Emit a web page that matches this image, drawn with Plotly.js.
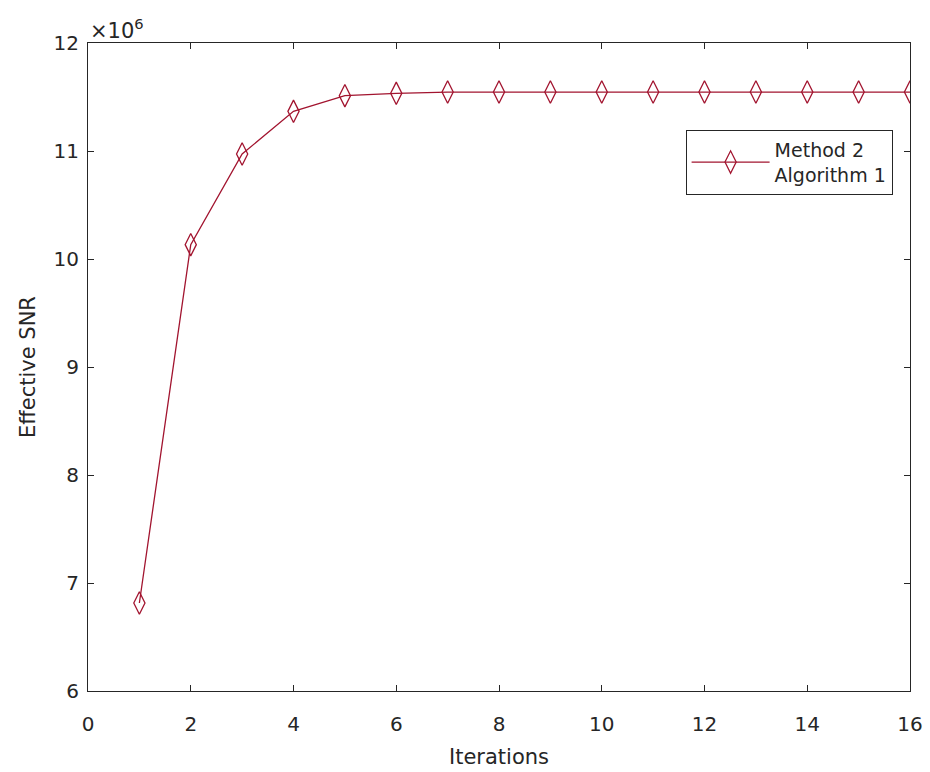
<!DOCTYPE html>
<html>
<head>
<meta charset="utf-8">
<script src="https://cdn.plot.ly/plotly-3.0.1.min.js"></script>
<style>html,body{margin:0;padding:0;background:#fff;}#chart{width:930px;height:772px;}</style>
</head>
<body>
<div id="chart"></div>
<script>
const iterations = [1, 2, 3, 4, 5, 6, 7, 8, 9, 10, 11, 12, 13, 14, 15, 16];
const effectiveSNR = [6.815, 10.133, 10.972, 11.367, 11.512, 11.534, 11.546, 11.546, 11.546, 11.546, 11.546, 11.546, 11.546, 11.546, 11.546, 11.546];
const seriesName = 'Method 2<br>Algorithm 1';
const xTicks = [0, 2, 4, 6, 8, 10, 12, 14, 16];
const yTicks = [6, 7, 8, 9, 10, 11, 12];

const lineColor = '#A2142F';
const axisColor = '#262626';
const fontFam = '"DejaVu Sans", "Liberation Sans", Arial, sans-serif';

const trace = {
  x: iterations,
  y: effectiveSNR,
  name: seriesName,
  type: 'scatter',
  mode: 'lines+markers',
  line: {color: lineColor, width: 1.3},
  marker: {symbol: 'diamond-tall-open', size: 16, color: lineColor, line: {width: 1.3, color: lineColor}},
  showlegend: true
};

const axisCommon = {
  showgrid: false,
  zeroline: false,
  showline: true,
  linecolor: axisColor,
  linewidth: 1,
  mirror: 'ticks',
  ticks: 'inside',
  ticklen: 6,
  tickcolor: axisColor,
  tickfont: {family: fontFam, size: 20, color: axisColor}
};

const layout = {
  width: 930,
  height: 772,
  margin: {l: 88, r: 20, t: 43, b: 81},
  paper_bgcolor: '#ffffff',
  plot_bgcolor: '#ffffff',
  font: {family: fontFam, color: axisColor},
  xaxis: Object.assign({}, axisCommon, {
    range: [0, 16],
    tickvals: xTicks,
    ticktext: xTicks.map(String),
    ticklabelstandoff: 15,
    title: {text: 'Iterations', font: {family: fontFam, size: 21, color: axisColor}, standoff: 14}
  }),
  yaxis: Object.assign({}, axisCommon, {
    range: [6, 12],
    tickvals: yTicks,
    ticktext: yTicks.map(String),
    ticklabelstandoff: 4,
    title: {text: 'Effective SNR', font: {family: fontFam, size: 21, color: axisColor}, standoff: 12}
  }),
  legend: {
    x: 0.727, y: 0.866, xanchor: 'left', yanchor: 'top',
    bgcolor: '#ffffff',
    bordercolor: axisColor,
    borderwidth: 1,
    font: {family: fontFam, size: 19, color: axisColor},
    itemwidth: 78
  },
  annotations: [{
    xref: 'paper', yref: 'paper', x: 0, y: 1, xanchor: 'left', yanchor: 'bottom',
    text: '\u00d710<sup>6</sup>', showarrow: false,
    font: {family: fontFam, size: 21, color: axisColor}, yshift: -2
  }]
};

Plotly.newPlot('chart', [trace], layout, {displayModeBar: false, staticPlot: true});
</script>
</body>
</html>
